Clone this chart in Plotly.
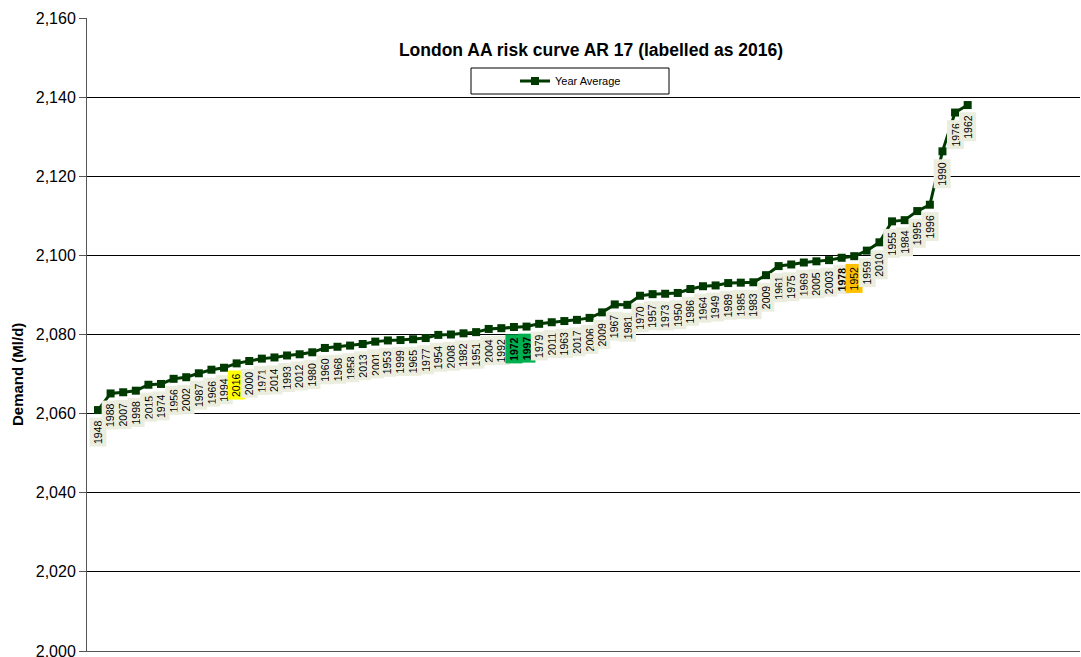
import plotly.graph_objects as go

years = ["1948", "1988", "2007", "1998", "2015", "1974", "1956", "2002", "1987", "1966",
         "1994", "2016", "2000", "1971", "2014", "1993", "2012", "1980", "1960", "1968",
         "1958", "2013", "2001", "1953", "1999", "1965", "1977", "1954", "2008", "1982",
         "1951", "2004", "1992", "1972", "1997", "1979", "2011", "1963", "2017", "2006",
         "2009", "1967", "1981", "1970", "1957", "1973", "1950", "1986", "1964", "1949",
         "1989", "1985", "1983", "2009", "1961", "1975", "1969", "2005", "2003", "1978",
         "1952", "1959", "2010", "1955", "1984", "1995", "1996", "1990", "1976", "1962"]

demand = [2060.9, 2065.1, 2065.4, 2065.8, 2067.3, 2067.5, 2068.8, 2069.2, 2070.2, 2071.1,
          2071.6, 2072.7, 2073.3, 2073.9, 2074.2, 2074.7, 2075.0, 2075.5, 2076.6, 2076.9,
          2077.2, 2077.6, 2078.2, 2078.5, 2078.6, 2078.8, 2079.1, 2079.9, 2080.0, 2080.3,
          2080.6, 2081.4, 2081.6, 2081.9, 2082.0, 2082.7, 2083.1, 2083.4, 2083.7, 2084.2,
          2085.6, 2087.6, 2087.5, 2089.8, 2090.2, 2090.3, 2090.5, 2091.5, 2092.2, 2092.4,
          2093.0, 2093.1, 2093.2, 2095.0, 2097.3, 2097.7, 2098.2, 2098.5, 2098.8, 2099.4,
          2099.8, 2101.2, 2103.3, 2108.6, 2108.9, 2111.2, 2112.8, 2126.3, 2136.1, 2138.0]

y_ticks = [2000, 2020, 2040, 2060, 2080, 2100, 2120, 2140, 2160]

highlight_bg = {"2016": "#FFFF00", "1972": "#00B050", "1997": "#00B050", "1952": "#FFC000"}
bold_years = {"1972", "1997", "1978"}

W, H = 1081, 657
L, R, T, B = 87, 1, 18, 6
pw = W - L - R
ph = H - T - B

idx = list(range(1, len(years) + 1))
step = 12.604
x0 = 1 - (98 - L) / step
x1 = 1 + (W - R - 98) / step

line_col = "#003A00"
font_fam = "Arial, 'Liberation Sans', sans-serif"

fig = go.Figure()
fig.add_trace(go.Scatter(
    x=idx, y=demand, mode="lines+markers", name="Year Average",
    line=dict(color=line_col, width=3),
    marker=dict(symbol="square", size=8, color=line_col),
))

annotations = []
for i, (yr, v) in enumerate(zip(years, demand), start=1):
    txt = f"<b>{yr}</b>" if yr in bold_years else yr
    annotations.append(dict(
        x=i, y=v, xref="x", yref="y", text=txt, showarrow=False,
        textangle=-90, xanchor="center", yanchor="top", yshift=-7,
        bgcolor=highlight_bg.get(yr, "#EBEEDF"), borderpad=2,
        font=dict(family=font_fam, size=10.5, color="#000000"),
    ))

annotations.append(dict(
    x=(18 - L) / pw, y=(H - B - 375) / ph, xref="paper", yref="paper",
    text="<b>Demand (Ml/d)</b>", showarrow=False, textangle=-90,
    xanchor="center", yanchor="middle",
    font=dict(family=font_fam, size=15, color="#000000"),
))

fig.update_layout(
    width=W, height=H,
    margin=dict(l=L, r=R, t=T, b=B, pad=0, autoexpand=False),
    paper_bgcolor="white", plot_bgcolor="white",
    title=dict(text="<b>London AA risk curve AR 17 (labelled as 2016)</b>",
               x=(591) / W, xanchor="center", y=1 - 50 / H, yanchor="middle",
               font=dict(family=font_fam, size=17.5, color="#000000")),
    showlegend=True,
    legend=dict(x=(515 - L) / pw, xanchor="left", y=(H - B - 81) / ph, yanchor="middle",
                bgcolor="rgba(0,0,0,0)", borderwidth=0,
                font=dict(family=font_fam, size=11, color="#000000"),
                itemwidth=30),
    annotations=annotations,
    shapes=[dict(type="rect", xref="paper", yref="paper",
                 x0=(471 - L) / pw, x1=(669 - L) / pw,
                 y0=(H - B - 94) / ph, y1=(H - B - 68) / ph,
                 line=dict(color="#000000", width=1), fillcolor="white", layer="below")],
    xaxis=dict(range=[x0, x1], showticklabels=False, showgrid=False, zeroline=False,
               showline=True, linecolor="#555555", linewidth=1, ticks="",
               automargin=False),
    yaxis=dict(range=[2000, 2160], tickvals=y_ticks, tickformat=",d",
               showgrid=True, gridcolor="#000000", gridwidth=1, zeroline=False,
               showline=True, linecolor="#555555", linewidth=1,
               ticks="outside", ticklen=7, tickcolor="#555555",
               ticklabeloverflow="allow", automargin=False,
               tickfont=dict(family=font_fam, size=16, color="#000000")),
)

fig.write_html("out.html")
